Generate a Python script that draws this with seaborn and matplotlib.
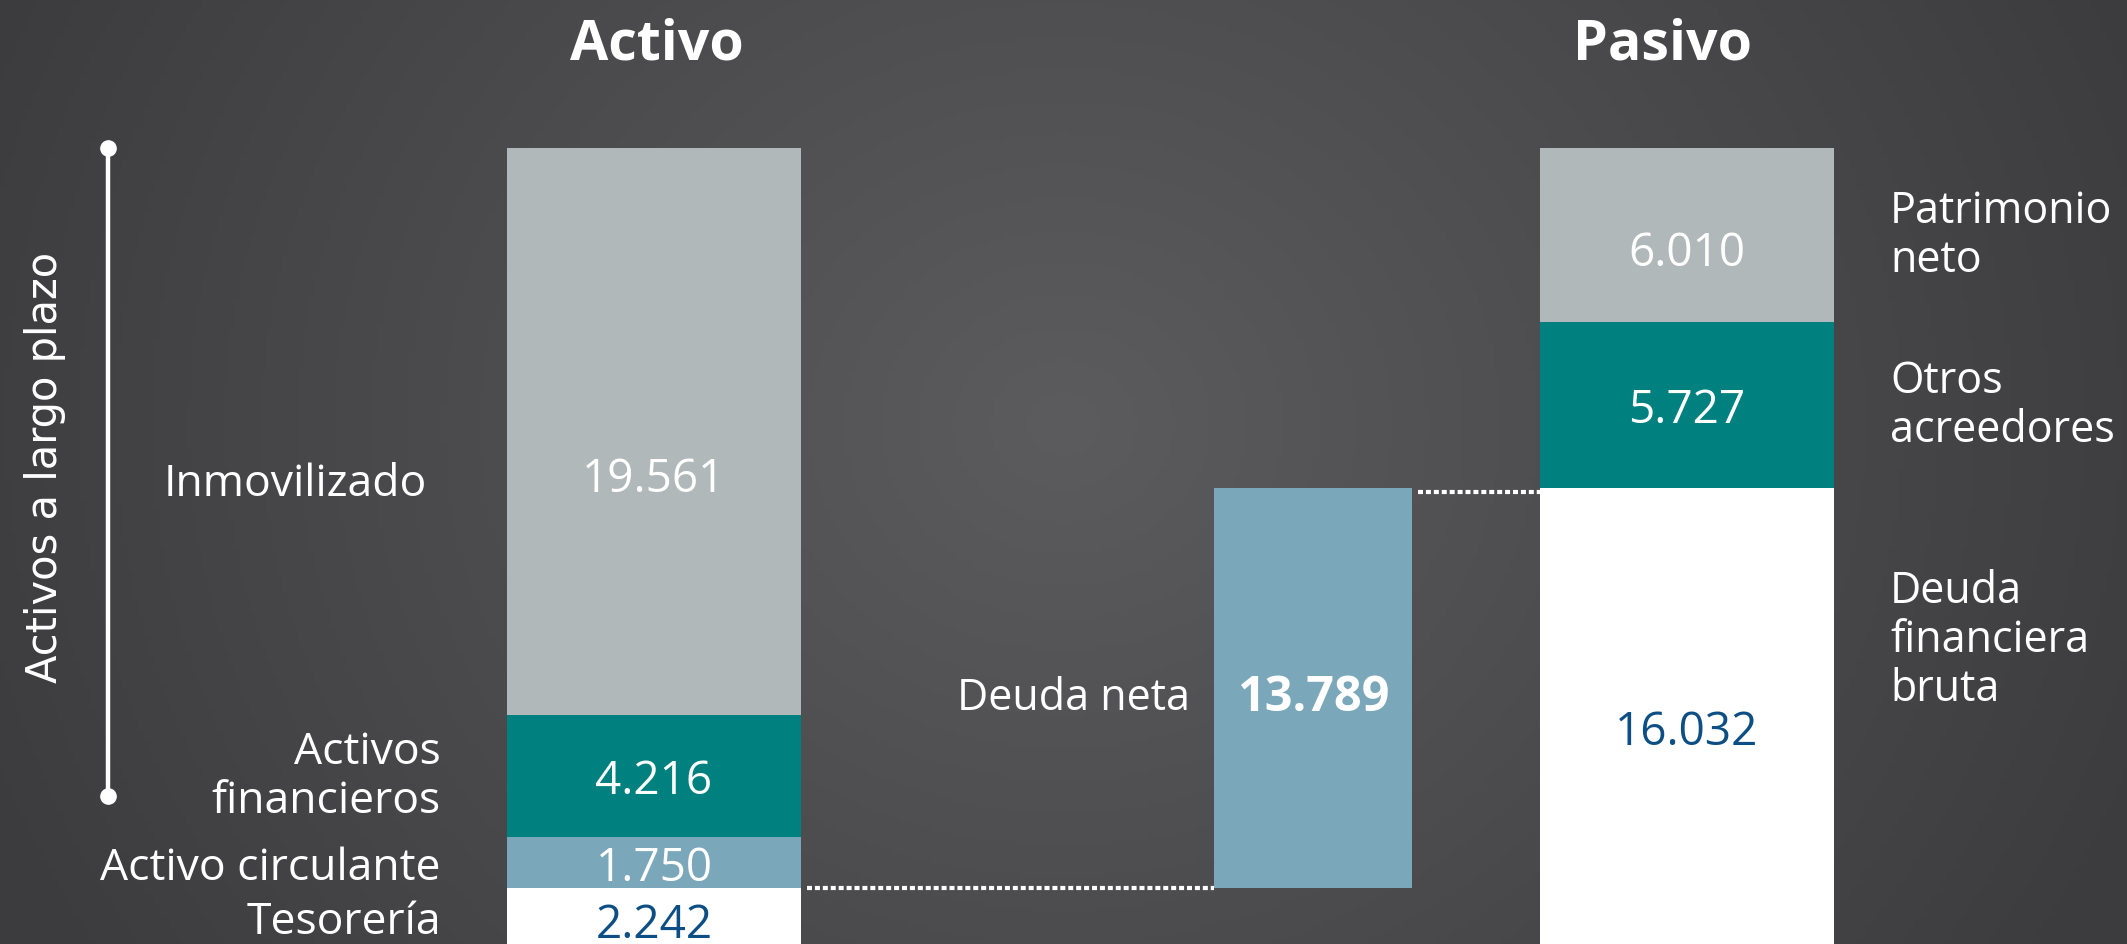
import numpy as np
import pandas as pd
import seaborn as sns
import matplotlib.pyplot as plt

sns.set_theme(style="white")
plt.rcParams['font.family'] = ['Open Sans', 'DejaVu Sans']

# Activo, de abajo hacia arriba
activo_labels = ["Tesorería", "Activo circulante", "Activos\nfinancieros", "Inmovilizado"]
activo_values = [2242, 1750, 4216, 19561]
activo_text = ["2.242", "1.750", "4.216", "19.561"]

# Pasivo, de abajo hacia arriba
pasivo_labels = ["Deuda\nfinanciera\nbruta", "Otros\nacreedores", "Patrimonio\nneto"]
pasivo_values = [16032, 5727, 6010]
pasivo_text = ["16.032", "5.727", "6.010"]

deuda_neta = 13789
deuda_neta_text = "13.789"

# colores
GRAY = "#B0B8B9"
TEAL = "#00807F"
BLUE = "#7BA7BA"
DARK = "#0D4F84"
activo_colors = ["white", BLUE, TEAL, GRAY]
pasivo_colors = ["white", TEAL, GRAY]
activo_txtcol = [DARK, "white", "white", "white"]
pasivo_txtcol = [DARK, "white", "white"]

# layout (x en pixeles de la figura)
W, H = 2127, 945
x_act, w_act = 654, 294
x_dn, w_dn = 1313, 198
x_pas, w_pas = 1687, 294
ymin, ymax = 310, 32908   # eje y en unidades de los datos
fs = 32      # etiquetas
fv = 33      # valores
shift = 170  # baja un poco el texto de una linea

fig = plt.figure(figsize=(W / 100, H / 100), dpi=100)
ax = fig.add_axes([0, 0, 1, 1])

# fondo gris con degradado
gx, gy = np.meshgrid(np.linspace(0, 1, 400), np.linspace(0, 1, 200))
r = np.sqrt(((gx - 0.5) / 0.55) ** 2 + ((gy - 0.45) / 1.1) ** 2)
shade = np.clip(1 - r, 0, 1)
lo, hi = np.array([60, 60, 62]) / 255, np.array([92, 92, 94]) / 255
img = lo + (hi - lo) * shade[..., None]
ax.imshow(img, extent=(0, W, ymin, ymax), aspect="auto", zorder=0, origin="upper")


def stack(xpos, width, values, colors):
    bottoms = np.concatenate([[0], np.cumsum(values)[:-1]])
    for v, b, c in zip(values, bottoms, colors):
        sns.barplot(x=[xpos], y=[v], bottom=b, native_scale=True, orient="x",
                    width=width, color=c, saturation=1, errorbar=None,
                    linewidth=0, ax=ax, zorder=2)
    return bottoms


act_bot = stack(x_act, w_act, activo_values, activo_colors)
pas_bot = stack(x_pas, w_pas, pasivo_values, pasivo_colors)

# deuda neta: barra flotante sobre la tesoreria
sns.barplot(x=[x_dn], y=[deuda_neta], bottom=activo_values[0], native_scale=True,
            orient="x", width=w_dn, color=BLUE, saturation=1, errorbar=None,
            linewidth=0, ax=ax, zorder=2)
ax.set_xlim(0, W)
ax.set_ylim(ymin, ymax)
ax.axis("off")

# lineas de puntos
dot = dict(color="white", lw=3, ls=(0, (1.2, 0.7)), zorder=3)
ax.plot([x_act + w_act / 2 + 6, x_dn - w_dn / 2], [activo_values[0]] * 2, **dot)
dn_top = activo_values[0] + deuda_neta
ax.plot([x_dn + w_dn / 2 + 6, x_pas - w_pas / 2], [dn_top - 120] * 2, **dot)

# textos dentro de las barras
act_mid = act_bot + np.array(activo_values) / 2
pas_mid = pas_bot + np.array(pasivo_values) / 2
act_val_y = list(act_mid[:3] - shift) + [16350]
pas_val_y = [7640] + list(pas_mid[1:2] - shift) + [24150]
for t, y, c in zip(activo_text, act_val_y, activo_txtcol):
    ax.text(x_act, y, t, ha="center", va="center", color=c, fontsize=fv, zorder=4)
for t, y, c in zip(pasivo_text, pas_val_y, pasivo_txtcol):
    ax.text(x_pas, y, t, ha="center", va="center", color=c, fontsize=fv, zorder=4)
dn_y = activo_values[0] + deuda_neta / 2 - 330
ax.text(x_dn, dn_y, deuda_neta_text, ha="center", va="center", color="white",
        fontsize=35, fontweight="bold", zorder=4)

# etiquetas
act_lab_y = [act_mid[0] - 60, act_mid[1] - shift, act_mid[2], 16200]
act_lab_x = [441, 441, 441, 427]
for t, x, y in zip(activo_labels, act_lab_x, act_lab_y):
    ax.text(x, y, t, ha="right", va="center", color="white", fontsize=fs,
            linespacing=1.13, zorder=4)
pas_lab_y = [10800] + list(pas_mid[1:])
for t, y in zip(pasivo_labels, pas_lab_y):
    ax.text(1890, y, t, ha="left", va="center", color="white", fontsize=fs - 1,
            linespacing=1.13, zorder=4)
ax.text(x_dn - w_dn / 2 - 24, dn_y, "Deuda neta", ha="right", va="center",
        color="white", fontsize=fs - 1, zorder=4)

# titulos
ax.text(657, 31350, "Activo", ha="center", va="center", color="white",
        fontsize=40, fontweight="bold")
ax.text(1663, 31350, "Pasivo", ha="center", va="center", color="white",
        fontsize=40, fontweight="bold")

# corchete de activos a largo plazo
ax.plot([108, 108], [sum(activo_values), 5400], color="white", lw=3.2,
        marker="o", markersize=11, zorder=4)
ax.text(45, 16800, "Activos a largo plazo", rotation=90, ha="center", va="center",
        color="white", fontsize=30, family=["DejaVu Sans"])

fig.savefig("out.png", dpi=100)
